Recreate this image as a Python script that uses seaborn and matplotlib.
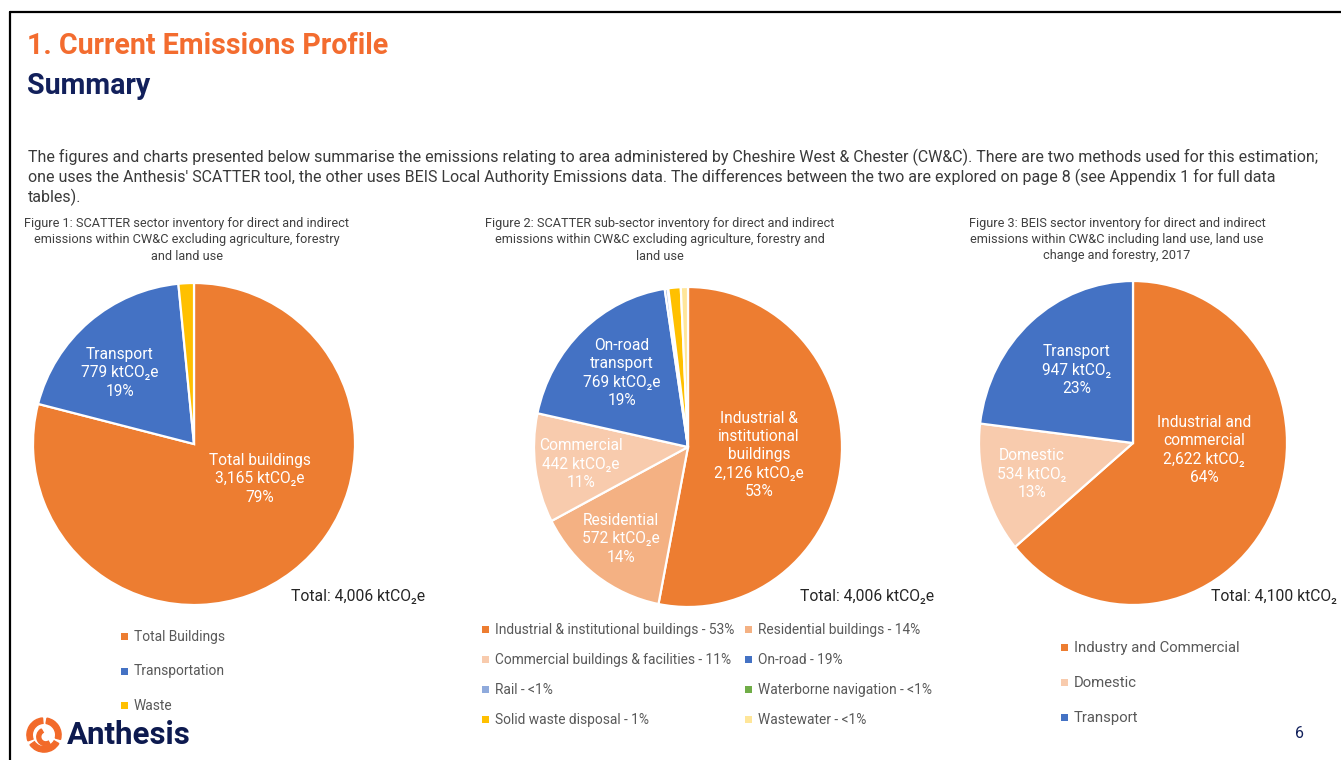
import matplotlib
matplotlib.use("Agg")
import matplotlib.pyplot as plt
from matplotlib.patches import Rectangle, Wedge
import seaborn as sns

# ---------------- data ----------------
fig1_labels = ["Total Buildings", "Transportation", "Waste"]
fig1_values = [3165, 779, 62]
fig1_colors = ["#ED7D31", "#4472C4", "#FFC000"]
fig1_slice_text = ["Total buildings\n3,165 ktCO\u2082e\n79%", "Transport\n779 ktCO\u2082e\n19%"]

fig2_labels = ["Industrial & institutional buildings - 53%", "Residential buildings - 14%",
               "Commercial buildings & facilities - 11%", "On-road - 19%",
               "Rail - <1%", "Waterborne navigation - <1%",
               "Solid waste disposal - 1%", "Wastewater - <1%"]
fig2_values = [2126, 572, 442, 769, 12, 3, 52, 30]
fig2_colors = ["#ED7D31", "#F4B183", "#F8CBAD", "#4472C4",
               "#8FAADC", "#70AD47", "#FFC000", "#FFE699"]
fig2_slice_text = ["Industrial &\ninstitutional\nbuildings\n2,126 ktCO\u2082e\n53%",
                   "Residential\n572 ktCO\u2082e\n14%",
                   "Commercial\n442 ktCO\u2082e\n11%",
                   "On-road\ntransport\n769 ktCO\u2082e\n19%"]

fig3_labels = ["Industry and Commercial", "Domestic", "Transport"]
fig3_values = [2622, 534, 947]
fig3_colors = ["#ED7D31", "#F8CBAD", "#4472C4"]
fig3_slice_text = ["Industrial and\ncommercial\n2,622 ktCO\u2082\n64%",
                   "Domestic\n534 ktCO\u2082\n13%",
                   "Transport\n947 ktCO\u2082\n23%"]

totals = ["Total: 4,006 ktCO\u2082e", "Total: 4,006 ktCO\u2082e", "Total: 4,100 ktCO\u2082"]
captions = ["Figure 1: SCATTER sector inventory for direct and indirect\nemissions within CW&C excluding agriculture, forestry\nand land use",
            "Figure 2: SCATTER sub-sector inventory for direct and indirect\nemissions within CW&C excluding agriculture, forestry and\nland use",
            "Figure 3: BEIS sector inventory for direct and indirect\nemissions within CW&C including land use, land use\nchange and forestry, 2017"]
paragraph = ["The figures and charts presented below summarise the emissions relating to area administered by Cheshire West & Chester (CW&C). There are two methods used for this estimation;",
             "one uses the Anthesis' SCATTER tool, the other uses BEIS Local Authority Emissions data. The differences between the two are explored on page 8 (see Appendix 1 for full data",
             "tables)."]

# ---------------- setup ----------------
sns.set_theme(style="white")
plt.rcParams["font.family"] = ["Roboto", "DejaVu Sans"]

W, H = 1341, 760
fig = plt.figure(figsize=(W / 100, H / 100), dpi=100)
fig.patch.set_facecolor("white")


def P(x, y):
    return x / W, 1 - y / H


def pie_axes(cx, cy, rx, ry):
    ax = fig.add_axes([(cx - rx) / W, 1 - (cy + ry) / H, 2 * rx / W, 2 * ry / H])
    return ax


def draw_pie(ax, values, colors):
    ax.pie(values, colors=colors, startangle=90, counterclock=False,
           wedgeprops=dict(edgecolor="white", linewidth=1.6))
    ax.set_aspect("auto")
    ax.set_xlim(-1, 1)
    ax.set_ylim(-1, 1)
    ax.axis("off")


# frame
fig.add_artist(plt.Line2D([10 / W, 10 / W], [0, 1 - 12 / H], transform=fig.transFigure, color="black", lw=1.6))
fig.add_artist(plt.Line2D([10 / W, 1], [1 - 12 / H, 1 - 12 / H], transform=fig.transFigure, color="black", lw=1.6))

# titles
fig.text(*P(27, 46), "1. Current Emissions Profile", color="#F36C2F", fontsize=20.6,
         fontweight="bold", va="center", ha="left")
fig.text(*P(27, 86), "Summary", color="#12205B", fontsize=20.6, fontweight="bold", va="center", ha="left")

for i, line in enumerate(paragraph):
    fig.text(*P(28, 157 + 20 * i), line, color="#3A3A3A", fontsize=11.5, va="center", ha="left")

cap_x = [187, 660, 1117]
for cx, cap in zip(cap_x, captions):
    fig.text(*P(cx, 240), cap, color="#404040", fontsize=9.2, va="center", ha="center",
             linespacing=1.3)

# pies
ax1 = pie_axes(194, 444, 161, 161)
draw_pie(ax1, fig1_values, fig1_colors)
ax2 = pie_axes(688, 447, 154, 160)
draw_pie(ax2, fig2_values, fig2_colors)
ax3 = pie_axes(1133, 443, 154, 162)
draw_pie(ax3, fig3_values, fig3_colors)

lbl = dict(color="white", fontsize=11.2, ha="center", va="center", linespacing=1.28)
fig.text(*P(260, 479), fig1_slice_text[0], **lbl)
fig.text(*P(120, 373), fig1_slice_text[1], **lbl)

fig.text(*P(759, 455), fig2_slice_text[0], **lbl)
fig.text(*P(621, 539), fig2_slice_text[1], **lbl)
fig.text(*P(581, 464), fig2_slice_text[2], **lbl)
fig.text(*P(622, 373), fig2_slice_text[3], **lbl)

fig.text(*P(1204, 450), fig3_slice_text[0], **lbl)
fig.text(*P(1032, 474), fig3_slice_text[1], **lbl)
fig.text(*P(1077, 370), fig3_slice_text[2], **lbl)

# totals
for x, t in zip([291, 800, 1211], totals):
    fig.text(*P(x, 597), t, color="#262626", fontsize=11.3, ha="left", va="center")


# legends
def legend_item(x, y, color, text, fs=9.5):
    fig.add_artist(Rectangle(P(x - 4, y + 3), 7 / W, 7 / H, transform=fig.transFigure,
                             facecolor=color, edgecolor="none"))
    fig.text(*P(x + 9, y), text, color="#595959", fontsize=fs, ha="left", va="center")


for i, (lab, col) in enumerate(zip(fig1_labels, fig1_colors)):
    legend_item(125, 637 + 34.5 * i, col, lab, fs=9.9)

for i, (lab, col) in enumerate(zip(fig2_labels, fig2_colors)):
    row, colm = divmod(i, 2)
    legend_item(486 if colm == 0 else 749, 630 + 30 * row, col, lab, fs=9.9)

for i, (lab, col) in enumerate(zip(fig3_labels, fig3_colors)):
    legend_item(1065, 648 + 35 * i, col, lab, fs=10.7)

# logo
fig.text(*P(67, 735), "Anthesis", color="#0D1A4F", fontsize=22.5, fontweight="bold",
         ha="left", va="center")
lax = fig.add_axes([26 / W, 1 - 753 / H, 36 / W, 36 / H])
lax.set_xlim(-1, 1)
lax.set_ylim(-1, 1)
lax.axis("off")
for t1, t2 in [(95, 200), (215, 330), (345, 80)]:
    lax.add_patch(Wedge((0, 0), 0.95, t1, t2, width=0.3, color="#F26A2A"))
lax.add_patch(Wedge((0.1, -0.1), 0.5, 120, 300, width=0.22, color="#F26A2A"))

fig.text(*P(1299, 733), "6", color="#12205B", fontsize=11.5, ha="center", va="center")

fig.savefig("out.png", dpi=100, facecolor="white")
